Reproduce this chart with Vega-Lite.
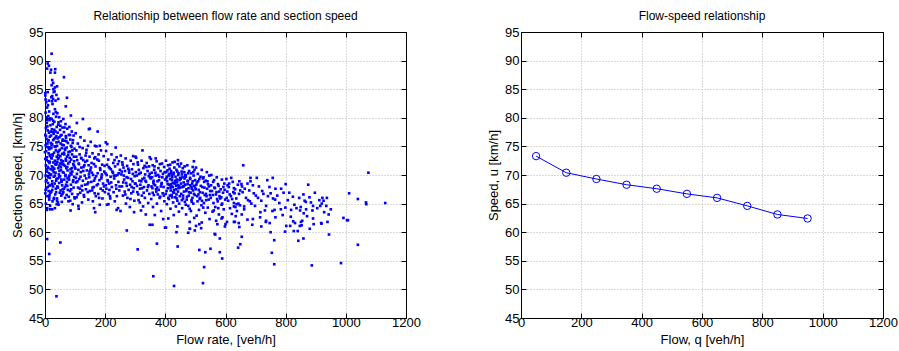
{
"$schema":"https://vega.github.io/schema/vega-lite/v6.json",
"background":"white",
"padding":{"left":11,"top":9,"right":0,"bottom":0},
"spacing":66,
"datasets":{
"avg":[{"q":50,"u":73.3},{"q":150,"u":70.4},{"q":250,"u":69.3},{"q":350,"u":68.3},{"q":450,"u":67.6},{"q":550,"u":66.7},{"q":650,"u":66.0},{"q":750,"u":64.6},{"q":850,"u":63.1},{"q":950,"u":62.4}],
"scatter":[
{"q":22,"v":91.2},{"q":9,"v":89.5},{"q":13,"v":89.1},{"q":7,"v":88.6},{"q":20,"v":88.4},{"q":34,"v":88.5},{"q":18,"v":87.9},{"q":33,"v":87.9},{"q":63,"v":87.1},{"q":24,"v":86.6},{"q":27,"v":86.1},{"q":40,"v":85.5},{"q":33,"v":85.3},{"q":22,"v":85.7},{"q":9,"v":84.5},{"q":29,"v":84.5},{"q":38,"v":84.0},{"q":24,"v":83.8},{"q":27,"v":83.3},{"q":2,"v":83.2},{"q":44,"v":83.3},{"q":13,"v":83.0},{"q":73,"v":83.5},{"q":69,"v":82.0},{"q":86,"v":80.4},{"q":126,"v":79.8},{"q":106,"v":79.1},{"q":149,"v":78.1},{"q":146,"v":78.0},{"q":175,"v":77.6},{"q":202,"v":75.7},{"q":207,"v":75.4},{"q":235,"v":74.8},{"q":166,"v":75.1},{"q":182,"v":75.1},{"q":324,"v":74.3},{"q":293,"v":73.3},{"q":301,"v":73.2},{"q":348,"v":73.1},{"q":442,"v":72.6},{"q":495,"v":72.4},{"q":659,"v":71.7},{"q":1075,"v":70.4},
{"q":800,"v":68.4},{"q":875,"v":68.3},{"q":739,"v":69.1},{"q":757,"v":69.5},{"q":704,"v":69.5},{"q":683,"v":69.5},{"q":859,"v":66.6},{"q":879,"v":66.1},{"q":824,"v":66.2},{"q":807,"v":65.6},{"q":829,"v":64.8},{"q":867,"v":65.3},{"q":799,"v":64.3},{"q":779,"v":65.1},{"q":765,"v":65.7},{"q":741,"v":66.3},{"q":726,"v":66.7},{"q":785,"v":67.6},{"q":750,"v":66.8},{"q":766,"v":67.6},{"q":711,"v":68.0},{"q":691,"v":68.2},{"q":673,"v":68.5},{"q":664,"v":67.6},{"q":649,"v":67.3},{"q":628,"v":67.7},{"q":653,"v":68.4},{"q":701,"v":66.4},{"q":719,"v":65.5},{"q":681,"v":65.4},{"q":662,"v":64.5},{"q":628,"v":64.5},{"q":731,"v":63.8},{"q":756,"v":63.7},{"q":766,"v":62.6},{"q":790,"v":63.0},{"q":817,"v":62.7},{"q":848,"v":63.8},{"q":860,"v":63.3},{"q":889,"v":63.8},{"q":715,"v":62.6},{"q":691,"v":62.3},{"q":673,"v":62.2},{"q":654,"v":63.1},{"q":631,"v":61.8},{"q":646,"v":60.9},{"q":734,"v":61.8},{"q":815,"v":61.1},{"q":831,"v":61.6},{"q":853,"v":61.2},{"q":893,"v":61.4},{"q":587,"v":62.4},{"q":605,"v":61.8},{"q":598,"v":61.0},
{"q":1011,"v":66.8},{"q":1040,"v":65.8},{"q":1067,"v":65.2},{"q":1068,"v":64.9},{"q":1131,"v":65.1},{"q":922,"v":66.0},{"q":912,"v":65.6},{"q":863,"v":65.5},{"q":920,"v":65.0},{"q":891,"v":64.6},{"q":915,"v":64.6},{"q":935,"v":64.6},{"q":850,"v":64.4},{"q":928,"v":63.5},{"q":943,"v":63.1},{"q":871,"v":62.8},{"q":891,"v":62.4},{"q":992,"v":62.5},{"q":1007,"v":62.1},{"q":939,"v":61.8},{"q":919,"v":61.5},{"q":851,"v":61.8},
{"q":7,"v":58.8},{"q":14,"v":56.2},{"q":51,"v":58.2},{"q":38,"v":48.8},{"q":272,"v":60.3},{"q":308,"v":57.0},{"q":372,"v":58.0},{"q":360,"v":52.3},{"q":429,"v":50.6},{"q":441,"v":57.5},{"q":399,"v":60.8},{"q":437,"v":60.0},{"q":440,"v":61.0},{"q":476,"v":59.9},{"q":481,"v":60.6},{"q":498,"v":60.3},{"q":513,"v":56.9},{"q":533,"v":56.5},{"q":529,"v":53.9},{"q":525,"v":51.1},{"q":550,"v":57.1},{"q":566,"v":59.6},{"q":581,"v":58.9},{"q":581,"v":56.5},{"q":589,"v":55.4},{"q":642,"v":57.3},{"q":649,"v":57.9},{"q":654,"v":59.2},{"q":754,"v":56.4},{"q":762,"v":54.4},{"q":762,"v":58.6},{"q":859,"v":58.9},{"q":887,"v":54.2},{"q":944,"v":59.6},{"q":984,"v":54.6},{"q":1040,"v":57.8},{"q":750,"v":60.0},{"q":798,"v":60.1},{"q":827,"v":60.2},{"q":842,"v":58.5},{"q":840,"v":60.2},{"q":918,"v":61.6},{"q":1004,"v":62.1},{"q":628,"v":61.8},{"q":644,"v":61.6},{"q":689,"v":61.3},{"q":719,"v":61.0},{"q":735,"v":62.0},{"q":747,"v":61.6},{"q":802,"v":61.1},{"q":825,"v":61.9},{"q":847,"v":61.1},{"q":600,"v":61.4},{"q":564,"v":59.7},{"q":569,"v":62.0},{"q":573,"v":61.4},{"q":521,"v":61.7},{"q":502,"v":61.1},{"q":513,"v":61.4},{"q":519,"v":60.7},{"q":402,"v":60.8},{"q":357,"v":61.3},{"q":348,"v":61.3},{"q":482,"v":60.6},
{"q":7,"v":64.2},{"q":14,"v":66.1},{"q":17,"v":64.0},{"q":24,"v":64.0},{"q":40,"v":65.5},{"q":43,"v":65.2},{"q":85,"v":63.8},{"q":112,"v":64.1},{"q":163,"v":64.2},{"q":167,"v":63.5},{"q":211,"v":64.9},{"q":238,"v":63.9},{"q":296,"v":63.5},
{"q":1,"v":83.9},{"q":4,"v":82.7},{"q":7,"v":81.8},{"q":2,"v":80.9},{"q":11,"v":80.3},{"q":15,"v":79.6},{"q":6,"v":79.1},{"q":18,"v":78.7},{"q":3,"v":78.2},{"q":9,"v":77.8},
{"q":13,"v":77.4},{"q":1,"v":77.0},{"q":16,"v":76.7},{"q":5,"v":76.3},{"q":10,"v":75.9},{"q":19,"v":75.6},{"q":2,"v":75.2},{"q":8,"v":74.9},{"q":14,"v":74.5},{"q":4,"v":74.2},
{"q":12,"v":73.8},{"q":17,"v":73.5},{"q":6,"v":73.1},{"q":1,"v":72.8},{"q":11,"v":72.4},{"q":15,"v":72.1},{"q":3,"v":71.7},{"q":9,"v":71.4},{"q":19,"v":71.0},{"q":7,"v":70.6},
{"q":13,"v":70.3},{"q":2,"v":69.9},{"q":16,"v":69.5},{"q":5,"v":69.1},{"q":10,"v":68.6},{"q":18,"v":68.2},{"q":4,"v":67.7},{"q":12,"v":67.2},{"q":1,"v":66.8},{"q":8,"v":66.3},
{"q":14,"v":65.7},{"q":3,"v":65.0},{"q":17,"v":64.6},{"q":6,"v":63.9},{"q":10,"v":82.2},{"q":14,"v":81.1},{"q":17,"v":79.9},{"q":8,"v":78.5},{"q":12,"v":76.1},{"q":0,"v":74.0},
{"q":16,"v":73.3},{"q":6,"v":72.6},{"q":11,"v":71.2},{"q":18,"v":70.0},{"q":3,"v":68.9},{"q":9,"v":67.9},{"q":15,"v":66.5},{"q":1,"v":84.3},{"q":5,"v":80.1},{"q":19,"v":77.6},
{"q":21,"v":83.6},{"q":25,"v":82.4},{"q":33,"v":81.5},{"q":28,"v":80.7},{"q":37,"v":80.2},{"q":22,"v":79.8},{"q":31,"v":79.3},{"q":26,"v":78.9},{"q":39,"v":78.4},{"q":23,"v":78.0},
{"q":35,"v":77.6},{"q":29,"v":77.2},{"q":20,"v":76.9},{"q":34,"v":76.5},{"q":27,"v":76.1},{"q":38,"v":75.7},{"q":24,"v":75.4},{"q":32,"v":75.0},{"q":21,"v":74.7},{"q":36,"v":74.3},
{"q":30,"v":73.9},{"q":25,"v":73.6},{"q":39,"v":73.2},{"q":22,"v":72.9},{"q":33,"v":72.5},{"q":28,"v":72.2},{"q":37,"v":71.8},{"q":23,"v":71.5},{"q":31,"v":71.1},{"q":26,"v":70.8},
{"q":35,"v":70.4},{"q":20,"v":70.1},{"q":29,"v":69.7},{"q":38,"v":69.3},{"q":24,"v":68.9},{"q":32,"v":68.5},{"q":27,"v":68.0},{"q":36,"v":67.6},{"q":21,"v":67.1},{"q":34,"v":66.6},
{"q":30,"v":66.0},{"q":25,"v":65.4},{"q":39,"v":64.9},{"q":33,"v":64.2},{"q":23,"v":82.9},{"q":36,"v":81.0},{"q":27,"v":79.5},{"q":31,"v":77.9},{"q":38,"v":76.8},{"q":22,"v":75.2},
{"q":26,"v":73.4},{"q":34,"v":71.9},{"q":29,"v":70.5},{"q":37,"v":69.0},{"q":24,"v":67.4},{"q":32,"v":84.6},{"q":28,"v":85.0},{"q":35,"v":83.0},
{"q":41,"v":80.8},{"q":47,"v":80.1},{"q":53,"v":79.4},{"q":44,"v":78.8},{"q":58,"v":78.3},{"q":50,"v":77.9},{"q":42,"v":77.4},{"q":55,"v":77.0},{"q":48,"v":76.6},{"q":59,"v":76.2},
{"q":45,"v":75.8},{"q":52,"v":75.5},{"q":40,"v":75.1},{"q":56,"v":74.7},{"q":49,"v":74.4},{"q":43,"v":74.0},{"q":57,"v":73.7},{"q":51,"v":73.3},{"q":46,"v":73.0},{"q":54,"v":72.6},
{"q":41,"v":72.3},{"q":58,"v":71.9},{"q":48,"v":71.6},{"q":44,"v":71.2},{"q":53,"v":70.9},{"q":59,"v":70.5},{"q":46,"v":70.1},{"q":50,"v":69.8},{"q":42,"v":69.4},{"q":55,"v":69.0},
{"q":47,"v":68.6},{"q":57,"v":68.2},{"q":43,"v":67.8},{"q":52,"v":67.3},{"q":49,"v":66.9},{"q":54,"v":66.4},{"q":40,"v":65.9},{"q":56,"v":65.3},{"q":45,"v":64.8},{"q":51,"v":78.6},
{"q":58,"v":76.0},{"q":44,"v":73.5},{"q":53,"v":71.4},{"q":47,"v":69.6},{"q":59,"v":67.5},{"q":42,"v":76.4},{"q":50,"v":72.0},{"q":55,"v":68.8},
{"q":61,"v":79.8},{"q":68,"v":78.9},{"q":74,"v":78.1},{"q":63,"v":77.5},{"q":79,"v":77.0},{"q":70,"v":76.5},{"q":65,"v":76.0},{"q":76,"v":75.6},{"q":62,"v":75.2},{"q":72,"v":74.8},
{"q":67,"v":74.4},{"q":78,"v":74.0},{"q":64,"v":73.6},{"q":73,"v":73.2},{"q":69,"v":72.8},{"q":60,"v":72.4},{"q":77,"v":72.0},{"q":66,"v":71.6},{"q":71,"v":71.2},{"q":75,"v":70.8},
{"q":62,"v":70.4},{"q":68,"v":70.0},{"q":79,"v":69.6},{"q":64,"v":69.2},{"q":73,"v":68.8},{"q":70,"v":68.3},{"q":66,"v":67.9},{"q":76,"v":67.4},{"q":61,"v":67.0},{"q":72,"v":66.5},
{"q":67,"v":66.0},{"q":78,"v":65.4},{"q":63,"v":73.9},{"q":74,"v":71.4},{"q":69,"v":76.8},{"q":75,"v":69.4},
{"q":81,"v":78.4},{"q":89,"v":77.6},{"q":95,"v":76.9},{"q":84,"v":76.2},{"q":92,"v":75.6},{"q":86,"v":75.1},{"q":98,"v":74.6},{"q":83,"v":74.1},{"q":90,"v":73.6},{"q":96,"v":73.2},
{"q":87,"v":72.7},{"q":82,"v":72.3},{"q":94,"v":71.9},{"q":99,"v":71.4},{"q":85,"v":71.0},{"q":91,"v":70.6},{"q":88,"v":70.1},{"q":97,"v":69.7},{"q":80,"v":69.2},{"q":93,"v":68.8},
{"q":86,"v":68.3},{"q":95,"v":67.8},{"q":83,"v":67.2},{"q":90,"v":66.7},{"q":98,"v":66.1},{"q":84,"v":65.5},{"q":92,"v":64.9},{"q":88,"v":74.9},{"q":96,"v":71.7},{"q":81,"v":69.9},
{"q":102,"v":77.3},{"q":118,"v":76.6},{"q":131,"v":76.0},{"q":109,"v":75.5},{"q":143,"v":75.1},{"q":125,"v":74.7},{"q":104,"v":74.3},{"q":137,"v":73.9},{"q":115,"v":73.6},{"q":148,"v":73.2},
{"q":121,"v":72.9},{"q":107,"v":72.6},{"q":134,"v":72.3},{"q":112,"v":72.0},{"q":145,"v":71.7},{"q":128,"v":71.4},{"q":101,"v":71.1},{"q":139,"v":70.8},{"q":119,"v":70.5},{"q":106,"v":70.2},
{"q":132,"v":69.9},{"q":147,"v":69.6},{"q":114,"v":69.3},{"q":126,"v":69.0},{"q":103,"v":68.7},{"q":141,"v":68.4},{"q":122,"v":68.1},{"q":110,"v":67.8},{"q":136,"v":67.5},{"q":149,"v":67.2},
{"q":117,"v":66.9},{"q":129,"v":66.5},{"q":105,"v":66.1},{"q":144,"v":65.7},{"q":123,"v":65.2},{"q":111,"v":64.6},{"q":138,"v":74.4},{"q":113,"v":71.9},{"q":127,"v":70.7},{"q":146,"v":70.1},
{"q":108,"v":68.9},{"q":133,"v":68.3},{"q":120,"v":73.0},{"q":140,"v":72.5},{"q":116,"v":67.6},{"q":130,"v":66.2},
{"q":152,"v":75.8},{"q":171,"v":75.0},{"q":186,"v":74.3},{"q":158,"v":73.8},{"q":195,"v":73.3},{"q":164,"v":72.9},{"q":179,"v":72.5},{"q":155,"v":72.1},{"q":190,"v":71.8},{"q":168,"v":71.5},
{"q":183,"v":71.2},{"q":151,"v":70.9},{"q":197,"v":70.6},{"q":175,"v":70.3},{"q":160,"v":70.0},{"q":188,"v":69.7},{"q":166,"v":69.4},{"q":181,"v":69.1},{"q":154,"v":68.8},{"q":193,"v":68.5},
{"q":172,"v":68.2},{"q":162,"v":67.9},{"q":185,"v":67.6},{"q":157,"v":67.3},{"q":199,"v":67.0},{"q":177,"v":66.7},{"q":169,"v":66.3},{"q":191,"v":65.9},{"q":159,"v":65.4},{"q":182,"v":64.8},
{"q":174,"v":72.7},{"q":189,"v":70.1},{"q":163,"v":69.0},{"q":196,"v":68.0},{"q":153,"v":71.3},{"q":178,"v":73.6},{"q":165,"v":66.8},{"q":187,"v":69.4},
{"q":203,"v":74.2},{"q":221,"v":73.6},{"q":238,"v":73.1},{"q":210,"v":72.7},{"q":246,"v":72.4},{"q":227,"v":72.1},{"q":206,"v":71.8},{"q":233,"v":71.5},{"q":215,"v":71.2},{"q":249,"v":70.9},
{"q":224,"v":70.6},{"q":201,"v":70.3},{"q":241,"v":70.0},{"q":218,"v":69.7},{"q":230,"v":69.4},{"q":208,"v":69.1},{"q":244,"v":68.8},{"q":213,"v":68.5},{"q":236,"v":68.2},{"q":222,"v":67.9},
{"q":204,"v":67.6},{"q":247,"v":67.3},{"q":228,"v":67.0},{"q":211,"v":66.7},{"q":239,"v":66.3},{"q":217,"v":65.9},{"q":232,"v":65.4},{"q":206,"v":64.8},{"q":243,"v":64.2},{"q":219,"v":71.0},
{"q":235,"v":69.9},{"q":209,"v":68.9},{"q":226,"v":70.4},{"q":242,"v":71.9},{"q":214,"v":67.4},
{"q":252,"v":73.4},{"q":268,"v":72.9},{"q":285,"v":72.5},{"q":257,"v":72.2},{"q":294,"v":71.9},{"q":273,"v":71.6},{"q":261,"v":71.3},{"q":289,"v":71.0},{"q":266,"v":70.7},{"q":280,"v":70.4},
{"q":254,"v":70.1},{"q":298,"v":69.8},{"q":276,"v":69.5},{"q":263,"v":69.2},{"q":291,"v":68.9},{"q":270,"v":68.6},{"q":283,"v":68.3},{"q":256,"v":68.0},{"q":295,"v":67.7},{"q":278,"v":67.4},
{"q":265,"v":67.1},{"q":287,"v":66.8},{"q":259,"v":66.4},{"q":274,"v":66.0},{"q":297,"v":65.5},{"q":269,"v":65.0},{"q":282,"v":64.4},{"q":251,"v":63.7},{"q":292,"v":70.2},{"q":271,"v":69.6},
{"q":260,"v":68.7},{"q":288,"v":67.9},{"q":277,"v":71.1},
{"q":303,"v":73.0},{"q":321,"v":72.5},{"q":338,"v":72.1},{"q":309,"v":71.8},{"q":346,"v":71.5},{"q":327,"v":71.2},{"q":312,"v":70.9},{"q":341,"v":70.7},{"q":318,"v":70.4},{"q":333,"v":70.1},
{"q":305,"v":69.9},{"q":349,"v":69.6},{"q":324,"v":69.3},{"q":314,"v":69.0},{"q":336,"v":68.8},{"q":301,"v":68.5},{"q":344,"v":68.2},{"q":329,"v":67.9},{"q":316,"v":67.6},{"q":339,"v":67.3},
{"q":307,"v":67.0},{"q":347,"v":66.7},{"q":322,"v":66.4},{"q":332,"v":66.0},{"q":311,"v":65.6},{"q":343,"v":65.1},{"q":326,"v":64.5},{"q":319,"v":63.8},{"q":335,"v":63.1},{"q":302,"v":70.5},
{"q":330,"v":69.5},{"q":317,"v":68.3},{"q":348,"v":70.2},{"q":310,"v":66.6},{"q":337,"v":71.4},{"q":323,"v":67.7},
{"q":352,"v":72.8},{"q":371,"v":72.4},{"q":389,"v":72.0},{"q":358,"v":71.7},{"q":396,"v":71.4},{"q":377,"v":71.2},{"q":363,"v":70.9},{"q":384,"v":70.7},{"q":355,"v":70.4},{"q":392,"v":70.2},
{"q":368,"v":69.9},{"q":380,"v":69.7},{"q":351,"v":69.4},{"q":399,"v":69.2},{"q":374,"v":68.9},{"q":360,"v":68.7},{"q":387,"v":68.4},{"q":366,"v":68.2},{"q":394,"v":67.9},{"q":357,"v":67.7},
{"q":378,"v":67.4},{"q":370,"v":67.1},{"q":391,"v":66.8},{"q":362,"v":66.5},{"q":383,"v":66.2},{"q":353,"v":65.8},{"q":397,"v":65.4},{"q":372,"v":65.0},{"q":359,"v":64.4},{"q":386,"v":63.7},
{"q":365,"v":63.0},{"q":393,"v":62.3},{"q":376,"v":70.0},{"q":361,"v":69.0},{"q":388,"v":68.6},{"q":369,"v":67.5},{"q":398,"v":70.5},{"q":354,"v":68.0},{"q":381,"v":66.0},{"q":364,"v":71.5},
{"q":402,"v":72.5},{"q":424,"v":72.2},{"q":441,"v":71.9},{"q":409,"v":71.7},{"q":447,"v":71.5},{"q":430,"v":71.3},{"q":414,"v":71.1},{"q":437,"v":70.9},{"q":419,"v":70.7},{"q":403,"v":70.5},
{"q":444,"v":70.3},{"q":427,"v":70.1},{"q":411,"v":69.9},{"q":434,"v":69.7},{"q":449,"v":69.5},{"q":416,"v":69.3},{"q":422,"v":69.1},{"q":406,"v":68.9},{"q":439,"v":68.7},{"q":431,"v":68.5},
{"q":413,"v":68.3},{"q":446,"v":68.1},{"q":425,"v":67.9},{"q":408,"v":67.7},{"q":436,"v":67.5},{"q":418,"v":67.3},{"q":442,"v":67.1},{"q":429,"v":66.9},{"q":401,"v":66.7},{"q":421,"v":66.5},
{"q":448,"v":66.3},{"q":433,"v":66.1},{"q":412,"v":65.8},{"q":440,"v":65.5},{"q":426,"v":65.2},{"q":405,"v":64.9},{"q":435,"v":64.5},{"q":417,"v":64.1},{"q":445,"v":63.6},{"q":428,"v":63.0},
{"q":410,"v":62.4},{"q":438,"v":69.2},{"q":420,"v":68.0},{"q":443,"v":70.0},{"q":415,"v":66.4},{"q":432,"v":68.8},{"q":407,"v":70.8},{"q":426,"v":67.0},{"q":449,"v":67.8},{"q":423,"v":69.6},
{"q":404,"v":67.2},{"q":437,"v":66.6},{"q":419,"v":68.4},{"q":441,"v":68.2},{"q":428,"v":70.4},
{"q":452,"v":72.0},{"q":473,"v":71.7},{"q":491,"v":71.4},{"q":458,"v":71.2},{"q":497,"v":70.9},{"q":479,"v":70.7},{"q":463,"v":70.5},{"q":486,"v":70.3},{"q":455,"v":70.1},{"q":494,"v":69.9},
{"q":468,"v":69.7},{"q":482,"v":69.5},{"q":451,"v":69.3},{"q":499,"v":69.1},{"q":475,"v":68.9},{"q":461,"v":68.7},{"q":489,"v":68.5},{"q":466,"v":68.3},{"q":495,"v":68.1},{"q":457,"v":67.9},
{"q":477,"v":67.7},{"q":470,"v":67.5},{"q":492,"v":67.3},{"q":462,"v":67.1},{"q":484,"v":66.9},{"q":453,"v":66.7},{"q":498,"v":66.5},{"q":472,"v":66.2},{"q":459,"v":65.9},{"q":487,"v":65.6},
{"q":465,"v":65.3},{"q":493,"v":65.0},{"q":476,"v":64.6},{"q":456,"v":64.2},{"q":485,"v":63.7},{"q":469,"v":63.1},{"q":496,"v":62.5},{"q":481,"v":61.8},{"q":474,"v":69.0},{"q":460,"v":68.0},
{"q":488,"v":67.6},{"q":467,"v":70.0},{"q":490,"v":66.0},{"q":454,"v":70.6},{"q":478,"v":66.4},{"q":464,"v":69.4},{"q":483,"v":68.2},{"q":471,"v":65.7},
{"q":502,"v":71.3},{"q":521,"v":70.9},{"q":538,"v":70.5},{"q":508,"v":70.2},{"q":546,"v":69.9},{"q":527,"v":69.6},{"q":513,"v":69.3},{"q":534,"v":69.0},{"q":505,"v":68.7},{"q":542,"v":68.4},
{"q":518,"v":68.1},{"q":530,"v":67.8},{"q":501,"v":67.5},{"q":549,"v":67.2},{"q":524,"v":66.9},{"q":510,"v":66.6},{"q":537,"v":66.3},{"q":516,"v":66.0},{"q":544,"v":65.7},{"q":507,"v":65.4},
{"q":528,"v":65.1},{"q":520,"v":64.7},{"q":541,"v":64.3},{"q":512,"v":63.9},{"q":533,"v":63.4},{"q":504,"v":62.9},{"q":547,"v":62.3},{"q":525,"v":69.4},{"q":515,"v":67.0},{"q":539,"v":67.6},
{"q":509,"v":68.9},{"q":531,"v":66.5},{"q":545,"v":68.0},{"q":522,"v":65.5},
{"q":553,"v":70.0},{"q":571,"v":69.6},{"q":588,"v":69.2},{"q":559,"v":68.8},{"q":596,"v":68.5},{"q":577,"v":68.1},{"q":563,"v":67.8},{"q":584,"v":67.5},{"q":555,"v":67.2},{"q":592,"v":66.9},
{"q":568,"v":66.6},{"q":580,"v":66.3},{"q":551,"v":66.0},{"q":599,"v":65.7},{"q":574,"v":65.4},{"q":560,"v":65.1},{"q":587,"v":64.8},{"q":566,"v":64.4},{"q":594,"v":64.0},{"q":557,"v":63.6},
{"q":578,"v":63.1},{"q":590,"v":62.6},{"q":570,"v":67.0},{"q":582,"v":65.9},{"q":562,"v":69.1},{"q":597,"v":67.4},{"q":575,"v":68.4},
{"q":603,"v":69.3},{"q":624,"v":68.8},{"q":641,"v":68.3},{"q":611,"v":67.9},{"q":632,"v":67.5},{"q":606,"v":67.1},{"q":645,"v":66.7},{"q":618,"v":66.3},{"q":636,"v":65.9},{"q":609,"v":65.5},
{"q":628,"v":65.1},{"q":648,"v":64.7},{"q":615,"v":64.2},{"q":638,"v":63.7},{"q":621,"v":63.2},{"q":604,"v":66.0},{"q":626,"v":67.0},{"q":643,"v":65.0},{"q":612,"v":68.5},{"q":633,"v":64.4},
{"q":657,"v":67.0},{"q":668,"v":66.0},{"q":679,"v":67.3},{"q":686,"v":65.0},{"q":694,"v":66.8},{"q":662,"v":64.0},{"q":675,"v":65.6},{"q":698,"v":64.6},{"q":655,"v":68.0},{"q":683,"v":68.9},
{"q":708,"v":66.0},{"q":722,"v":67.2},{"q":735,"v":64.6},{"q":746,"v":67.9},{"q":758,"v":65.9},{"q":772,"v":66.4},{"q":784,"v":64.0},{"q":793,"v":66.9},{"q":716,"v":63.5},{"q":763,"v":63.9},
{"q":812,"v":66.9},{"q":836,"v":64.2},{"q":845,"v":66.0},{"q":868,"v":64.0},{"q":884,"v":65.2},{"q":897,"v":66.9},{"q":905,"v":64.2},{"q":926,"v":65.5},{"q":937,"v":66.0},{"q":950,"v":64.0},{"q":818,"v":63.9},{"q":855,"v":62.0},{"q":880,"v":60.6},
{"q":3,"v":76.8},{"q":8,"v":75.5},{"q":12,"v":74.8},{"q":16,"v":72.3},{"q":5,"v":71.0},{"q":10,"v":69.6},{"q":14,"v":68.1},{"q":2,"v":67.4},{"q":18,"v":66.9},{"q":7,"v":79.6},
{"q":26,"v":77.5},{"q":30,"v":76.3},{"q":35,"v":74.9},{"q":21,"v":73.0},{"q":38,"v":72.0},{"q":27,"v":71.3},{"q":33,"v":69.9},{"q":23,"v":68.4},{"q":37,"v":67.0},{"q":29,"v":65.8},
{"q":45,"v":79.2},{"q":52,"v":76.9},{"q":57,"v":75.3},{"q":43,"v":72.8},{"q":48,"v":70.7},{"q":54,"v":69.2},{"q":41,"v":68.0},{"q":58,"v":66.7},{"q":46,"v":74.2},{"q":56,"v":72.2},
{"q":65,"v":78.3},{"q":71,"v":75.9},{"q":77,"v":73.5},{"q":62,"v":71.8},{"q":68,"v":69.8},{"q":74,"v":68.1},{"q":79,"v":66.2},{"q":66,"v":74.6},{"q":70,"v":72.5},{"q":63,"v":67.6},
{"q":83,"v":77.0},{"q":91,"v":74.3},{"q":97,"v":72.4},{"q":85,"v":70.4},{"q":94,"v":69.1},{"q":87,"v":67.5},{"q":99,"v":65.9},{"q":82,"v":73.0},{"q":89,"v":71.2},{"q":93,"v":76.1},
{"q":104,"v":73.2},{"q":111,"v":70.9},{"q":118,"v":69.7},{"q":124,"v":67.3},{"q":131,"v":71.7},{"q":137,"v":69.4},{"q":142,"v":67.0},{"q":148,"v":70.6},{"q":115,"v":74.9},{"q":127,"v":72.6},
{"q":135,"v":73.4},{"q":109,"v":66.6},{"q":121,"v":71.3},{"q":144,"v":68.7},{"q":103,"v":69.5},
{"q":156,"v":70.4},{"q":163,"v":71.9},{"q":170,"v":69.8},{"q":176,"v":68.4},{"q":184,"v":70.9},{"q":192,"v":67.3},{"q":198,"v":71.6},{"q":158,"v":67.8},{"q":167,"v":73.1},{"q":180,"v":66.0},
{"q":205,"v":70.0},{"q":212,"v":71.4},{"q":220,"v":68.7},{"q":229,"v":69.9},{"q":237,"v":67.6},{"q":245,"v":70.3},{"q":216,"v":66.3},{"q":231,"v":72.6},{"q":248,"v":68.0},{"q":202,"v":68.2},
{"q":255,"v":70.6},{"q":262,"v":69.9},{"q":272,"v":68.1},{"q":279,"v":70.8},{"q":286,"v":69.3},{"q":293,"v":67.1},{"q":299,"v":68.5},{"q":267,"v":66.6},{"q":284,"v":65.8},{"q":258,"v":71.8},
{"q":306,"v":68.1},{"q":313,"v":70.2},{"q":320,"v":68.9},{"q":328,"v":66.9},{"q":334,"v":69.0},{"q":342,"v":67.9},{"q":345,"v":69.8},{"q":315,"v":65.2},{"q":331,"v":71.6},{"q":308,"v":72.2},
{"q":356,"v":69.6},{"q":362,"v":68.4},{"q":367,"v":70.4},{"q":373,"v":67.8},{"q":379,"v":69.1},{"q":385,"v":68.0},{"q":390,"v":69.6},{"q":395,"v":66.4},{"q":375,"v":66.6},{"q":358,"v":66.9},
{"q":382,"v":71.9},{"q":368,"v":72.9},
{"q":403,"v":69.4},{"q":408,"v":68.4},{"q":413,"v":70.2},{"q":417,"v":67.8},{"q":421,"v":69.9},{"q":425,"v":68.6},{"q":429,"v":67.4},{"q":433,"v":69.0},{"q":436,"v":68.1},{"q":440,"v":70.6},
{"q":444,"v":67.7},{"q":447,"v":69.1},{"q":410,"v":66.0},{"q":423,"v":66.1},{"q":438,"v":65.9},{"q":416,"v":71.8},{"q":431,"v":72.3},{"q":446,"v":65.0},{"q":405,"v":69.7},{"q":420,"v":70.3},
{"q":452,"v":68.5},{"q":457,"v":69.6},{"q":462,"v":68.1},{"q":466,"v":69.9},{"q":470,"v":67.2},{"q":474,"v":68.4},{"q":479,"v":67.0},{"q":483,"v":69.3},{"q":487,"v":67.9},{"q":491,"v":68.9},
{"q":495,"v":66.7},{"q":499,"v":67.8},{"q":459,"v":66.4},{"q":476,"v":70.3},{"q":488,"v":65.3},{"q":464,"v":71.5},{"q":481,"v":64.1},{"q":455,"v":65.6},{"q":493,"v":70.5},{"q":468,"v":64.8},
{"q":503,"v":68.3},{"q":511,"v":67.4},{"q":517,"v":69.7},{"q":523,"v":67.9},{"q":529,"v":68.8},{"q":535,"v":66.7},{"q":540,"v":68.9},{"q":548,"v":66.5},{"q":514,"v":65.8},{"q":526,"v":64.3},
{"q":536,"v":65.6},{"q":506,"v":66.3},
{"q":552,"v":68.2},{"q":558,"v":66.5},{"q":565,"v":67.7},{"q":572,"v":65.8},{"q":579,"v":67.1},{"q":586,"v":66.1},{"q":593,"v":67.9},{"q":561,"v":63.8},{"q":576,"v":64.2},{"q":589,"v":65.0},
{"q":607,"v":68.2},{"q":614,"v":66.6},{"q":622,"v":65.8},{"q":630,"v":66.8},{"q":637,"v":64.9},{"q":646,"v":68.9},{"q":619,"v":69.5},{"q":634,"v":62.8}
]},
"hconcat":[
{
"width":361,"height":286,
"title":"Relationship between flow rate and section speed",
"data":{"name":"scatter"},
"layer":[
{"mark":{"type":"square","size":7,"color":"#0000ff","opacity":1},
 "encoding":{
  "x":{"field":"q","type":"quantitative","scale":{"domain":[0,1200],"nice":false,"zero":false},
   "axis":{"title":"Flow rate, [veh/h]","values":[0,200,400,600,800,1000,1200],"format":"d","grid":true,"labelPadding":3}},
  "y":{"field":"v","type":"quantitative","scale":{"domain":[45,95],"nice":false,"zero":false},
   "axis":{"title":"Section speed, [km/h]","values":[45,50,55,60,65,70,75,80,85,90,95],"format":"d","grid":true,"labelPadding":7}}}},
{"mark":{"type":"square","size":1,"opacity":0},
 "encoding":{
  "x":{"field":"q","type":"quantitative","axis":{"orient":"top","labels":false,"title":null,"grid":false,"values":[0,200,400,600,800,1000,1200]}},
  "y":{"field":"v","type":"quantitative","axis":{"orient":"right","labels":false,"title":null,"grid":false,"values":[45,50,55,60,65,70,75,80,85,90,95]}}}}
],
"resolve":{"axis":{"x":"independent","y":"independent"}}
},
{
"width":362,"height":286,
"title":"Flow-speed relationship",
"data":{"name":"avg"},
"layer":[
{"mark":{"type":"line","color":"#0000ff","strokeWidth":1},
 "encoding":{
  "x":{"field":"q","type":"quantitative","scale":{"domain":[0,1200],"nice":false,"zero":false},
   "axis":{"title":"Flow, q [veh/h]","values":[0,200,400,600,800,1000,1200],"format":"d","grid":true,"labelPadding":3}},
  "y":{"field":"u","type":"quantitative","scale":{"domain":[45,95],"nice":false,"zero":false},
   "axis":{"title":"Speed, u [km/h]","values":[45,50,55,60,65,70,75,80,85,90,95],"format":"d","grid":true,"labelPadding":7}}}},
{"mark":{"type":"point","shape":"circle","filled":false,"size":55,"color":"#0000ff","strokeWidth":1,"opacity":1},
 "encoding":{
  "x":{"field":"q","type":"quantitative","axis":{"orient":"top","labels":false,"title":null,"grid":false,"values":[0,200,400,600,800,1000,1200]}},
  "y":{"field":"u","type":"quantitative","axis":{"orient":"right","labels":false,"title":null,"grid":false,"values":[45,50,55,60,65,70,75,80,85,90,95]}}}}
],
"resolve":{"axis":{"x":"independent","y":"independent"}}
}
],
"config":{
 "font":"Liberation Sans",
 "view":{"stroke":"black","strokeWidth":1},
 "axis":{"labelFont":"Liberation Sans","labelFontSize":13,"labelColor":"black","titleFont":"Liberation Sans","titleFontSize":13,"titleFontWeight":"normal","titleColor":"black","domainColor":"black","tickColor":"black","tickSize":-5,"labelPadding":9,"labelFlush":false,"labelOverlap":false,"gridColor":"#b4b4b4","gridDash":[1,2],"titlePadding":4},
 "title":{"font":"Liberation Sans","fontSize":12,"fontWeight":"normal","color":"black","offset":3}
}
}
